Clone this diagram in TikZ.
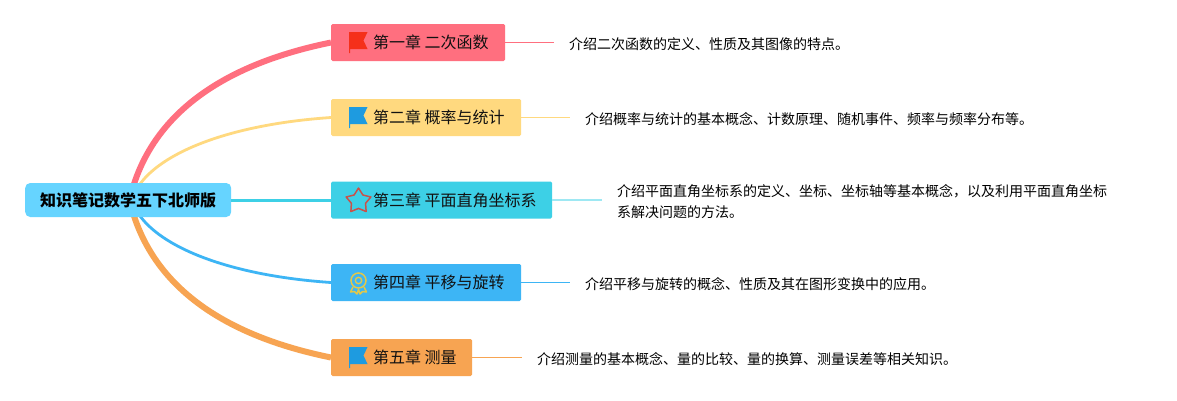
\documentclass[tikz,border=0pt]{standalone}
\usepackage{fontspec}
\setmainfont{Noto Sans CJK SC}
\usetikzlibrary{shapes.geometric}
\definecolor{cpink}{HTML}{FF6F7F}
\definecolor{cyellow}{HTML}{FFD97F}
\definecolor{ccyan}{HTML}{3DD0E6}
\definecolor{cblue}{HTML}{3DB5F5}
\definecolor{corange}{HTML}{F7A452}
\definecolor{croot}{HTML}{66D4FF}
\definecolor{iconred}{HTML}{F5301A}
\definecolor{iconblue}{HTML}{1E9BE0}
\definecolor{iconstar}{HTML}{C8524A}
\definecolor{iconmedal}{HTML}{E3C84A}
\definecolor{inkdark}{HTML}{111111}
\tikzset{
  x=1pt,y=-1pt,
  rootbox/.style={fill=croot,rounded corners=5pt,minimum width=206pt,minimum height=34pt,inner sep=0pt,font=\fontsize{16}{16}\selectfont\bfseries,text=black,anchor=west},
  chapbox/.style={rounded corners=1.5pt,minimum height=37pt,inner sep=0pt,align=left,font=\fontsize{16}{16}\selectfont,text=inkdark,anchor=west},
  detail/.style={inner sep=0pt,align=left,font=\fontsize{14}{21}\selectfont,text=black,anchor=west},
}
\newcommand{\flagat}[3]{% x, y top, colour
  \fill[#3] (#1,#2) -- (#1+18.5,#2) -- (#1+14.5,#2+8.5) -- (#1+18.5,#2+17) -- (#1+1.2,#2+17) -- (#1+1.2,#2+21) -- (#1,#2+21) -- cycle;
}
\newcommand{\gapsp}{\hspace{3.4pt}}
\begin{document}
\begin{tikzpicture}
\useasboundingbox (0,0) rectangle (1177,400);
\fill[white] (0,0) rectangle (1177,400);

\coordinate (up1) at (134,184);
\coordinate (up2) at (140,184);
\coordinate (dn2) at (140,216);
\coordinate (dn1) at (134,216);

\node[chapbox,fill=cpink,text width=174pt] (c1) at (331,42.5) {\hspace*{42pt}第一章\gapsp 二次函数};
\node[chapbox,fill=cyellow,text width=190pt] (c2) at (331,117.5) {\hspace*{42pt}第二章\gapsp 概率与统计};
\node[chapbox,fill=ccyan,text width=221pt] (c3) at (331,200) {\hspace*{42pt}第三章\gapsp 平面直角坐标系};
\node[chapbox,fill=cblue,text width=190pt] (c4) at (331,282.5) {\hspace*{42pt}第四章\gapsp 平移与旋转};
\node[chapbox,fill=corange,text width=141pt] (c5) at (331,357.5) {\hspace*{42pt}第五章\gapsp 测量};

\node[detail] (d1) at (569,44) {介绍二次函数的定义、性质及其图像的特点。};
\node[detail] (d2) at (585,119) {介绍概率与统计的基本概念、计数原理、随机事件、频率与频率分布等。};
\node[detail] (d3) at (617,202) {介绍平面直角坐标系的定义、坐标、坐标轴等基本概念，以及利用平面直角坐标\\系解决问题的方法。};
\node[detail] (d4) at (585,284) {介绍平移与旋转的概念、性质及其在图形变换中的应用。};
\node[detail] (d5) at (537,359) {介绍测量的基本概念、量的比较、量的换算、测量误差等相关知识。};

\coordinate (e1) at ([xshift=-15pt]d1.west);
\coordinate (e2) at ([xshift=-15pt]d2.west);
\coordinate (e3) at ([xshift=-15pt]d3.west);
\coordinate (e4) at ([xshift=-15pt]d4.west);
\coordinate (e5) at ([xshift=-15pt]d5.west);

\draw[cpink,line width=6pt] (up1) .. controls (160,105) and (235,62) .. (c1.west);
\draw[cyellow,line width=2.8pt] (up2) .. controls (165,150) and (235,124) .. (c2.west);
\draw[cblue,line width=2.8pt] (dn2) .. controls (165,250) and (235,276) .. (c4.west);
\draw[corange,line width=6pt] (dn1) .. controls (160,295) and (235,338) .. (c5.west);

\node[rootbox] (root) at (25,200) {知识笔记数学五下北师版};
\draw[ccyan,line width=3pt] (root.east) -- (c3.west);

\draw[cpink,line width=0.7pt] (c1.east) -- (c1.east -| e1);
\draw[cyellow,line width=1pt] (c2.east) -- (c2.east -| e2);
\draw[ccyan!50!white,line width=1.6pt] (c3.east) -- (c3.east -| e3);
\draw[cblue,line width=0.8pt] (c4.east) -- (c4.east -| e4);
\draw[corange,line width=0.9pt] (c5.east) -- (c5.east -| e5);

\flagat{349}{32}{iconred}
\flagat{349}{107}{iconblue}
\flagat{349}{347}{iconblue}
\node[star,star points=5,star point ratio=1.75,draw=iconstar,line width=1.5pt,line join=round,minimum size=26pt,inner sep=0pt] (starico) at (358.5,201) {};
\draw[iconmedal,line width=1.5pt] (358.5,280.5) circle (7.5pt);
\draw[iconmedal,line width=1.4pt] (358.5,280.5) circle (3.2pt);
\draw[iconmedal,line width=1.5pt,line join=round] (353,287) -- (350.5,292) -- (354.5,291.5) -- (357,294) -- (358.5,289.5) -- (360,294) -- (362.5,291.5) -- (366.5,292) -- (364,287);
\end{tikzpicture}
\end{document}
